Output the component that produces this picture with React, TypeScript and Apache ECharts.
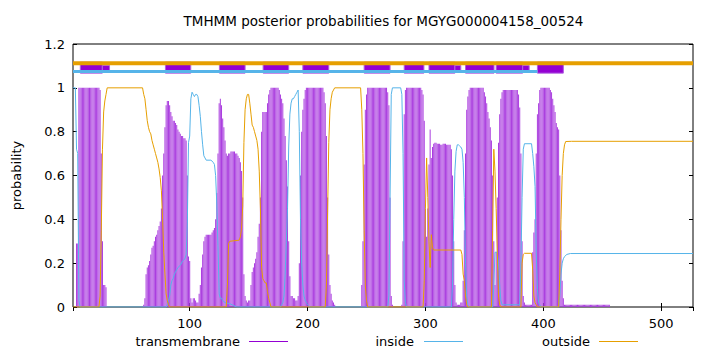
import React, { useEffect, useRef } from "react";
import * as echarts from "echarts";

// Posterior probability of transmembrane state, residue 1..456 (0 after)
const tmProb: number[] = [
  0, 0, 0, 0.29, 0.29, 1, 1, 1, 1, 1,
  1, 1, 1, 1, 1, 1, 1, 1, 1, 1,
  1, 1, 1, 0.99, 0.7, 0.3, 0.1, 0.1, 0.09, 0,
  0, 0, 0, 0, 0, 0, 0, 0, 0, 0,
  0, 0, 0, 0, 0, 0, 0, 0, 0, 0,
  0, 0, 0, 0, 0, 0, 0, 0, 0, 0,
  0.01, 0.04, 0.15, 0.18, 0.19, 0.21, 0.24, 0.27, 0.28, 0.3,
  0.32, 0.33, 0.35, 0.37, 0.39, 0.45, 0.6, 0.7, 0.82, 0.92,
  0.94, 0.94, 0.92, 0.89, 0.87, 0.85, 0.85, 0.84, 0.83, 0.81,
  0.8, 0.79, 0.78, 0.78, 0.77, 0.77, 0.76, 0.6, 0.23, 0.21,
  0.04, 0.02, 0.04, 0.04, 0.03, 0.02, 0.02, 0.06, 0.1, 0.18,
  0.24, 0.3, 0.32, 0.33, 0.33, 0.33, 0.33, 0.33, 0.34, 0.35,
  0.36, 0.4, 0.52, 0.7, 0.93, 0.95, 0.92, 0.86, 0.82, 0.76,
  0.7, 0.69, 0.7, 0.7, 0.71, 0.71, 0.71, 0.71, 0.7, 0.7,
  0.69, 0.68, 0.66, 0.62, 0.5, 0.15, 0.05, 0.03, 0.02, 0.03,
  0.03, 0.1, 0.16, 0.18, 0.2, 0.22, 0.25, 0.32, 0.38, 0.5,
  0.8, 0.89, 0.89, 0.89, 0.89, 0.93, 0.97, 0.99, 1, 1,
  1, 1, 1, 1, 1, 0.99, 0.97, 0.95, 0.93, 0.86,
  0.78, 0.67, 0.55, 0.3, 0.14, 0.05, 0.05, 0.04, 0.04, 0.03,
  0.03, 0.05, 0.2, 0.6, 0.8, 0.9, 0.95, 0.99, 1, 1,
  1, 1, 1, 1, 1, 1, 1, 1, 1, 1,
  1, 1, 1, 0.98, 0.93, 0.78, 0.5, 0.24, 0.1, 0.06,
  0.03, 0.02, 0.01, 0, 0, 0, 0, 0, 0, 0,
  0, 0, 0, 0, 0, 0, 0, 0, 0, 0,
  0, 0, 0, 0, 0, 0.1, 0.3, 0.65, 0.9, 0.97,
  1, 1, 1, 1, 1, 1, 1, 1, 1, 1,
  1, 1, 1, 1, 1, 1, 1, 0.98, 0.92, 0.5,
  0.05, 0.01, 0, 0, 0, 0, 0, 0, 0, 0.01,
  0.3, 0.88, 0.99, 1, 1, 1, 1, 1, 1, 1,
  1, 1, 1, 1, 1, 1, 0.99, 0.97, 0.85, 0.45,
  0.32, 0.45, 0.65, 0.81, 0.68, 0.73, 0.745, 0.75, 0.75, 0.745,
  0.745, 0.745, 0.74, 0.74, 0.745, 0.745, 0.745, 0.74, 0.74, 0.74,
  0.74, 0.72, 0.6, 0.3, 0.1, 0.02, 0.01, 0.01, 0.01, 0.02,
  0.02, 0.12, 0.35, 0.7, 0.9, 0.96, 0.99, 1, 1, 1,
  1, 1, 1, 1, 1, 1, 1, 1, 1, 0.98,
  0.96, 0.93, 0.89, 0.86, 0.82, 0.76, 0.6, 0.3, 0.1, 0.25,
  0.5, 0.75, 0.88, 0.95, 0.98, 0.99, 0.99, 0.99, 0.99, 0.99,
  0.99, 0.99, 0.99, 0.99, 0.99, 0.99, 0.99, 0.99, 0.97, 0.91,
  0.7, 0.3, 0.05, 0.02, 0.01, 0.01, 0.01, 0.01, 0.01, 0.01,
  0.25, 0.34, 0.4, 0.7, 0.88, 0.93, 0.99, 1, 1, 1,
  1, 1, 1, 1, 1, 0.99, 0.98, 0.95, 0.92, 0.89,
  0.84, 0.82, 0.81, 0.6, 0.35, 0.12, 0.04, 0.01, 0.01, 0.01,
  0.01, 0.01, 0.01, 0.01, 0.01, 0.01, 0.01, 0.01, 0.01, 0.01,
  0.01, 0.01, 0.01, 0.01, 0.01, 0.01, 0.01, 0.01, 0.01, 0.01,
  0.01, 0.01, 0.01, 0.01, 0.01, 0.01, 0.01, 0.01, 0.01, 0.01,
  0.01, 0.01, 0.01, 0.01, 0.01, 0.01,
];

// [residue, probability] for "inside"
const insideProb: [number, number][] = [
  [1, 1], [2, 1], [3, 1], [4, 0.72], [5, 0.7], [6, 0.03], [7, 0], [80, 0], [81, 0.01], [82, 0.03],
  [83, 0.05], [84, 0.1], [85, 0.12], [86, 0.13], [87, 0.15], [88, 0.16], [89, 0.17], [90, 0.18],
  [92, 0.19], [94, 0.21], [96, 0.22], [97, 0.24], [98, 0.38], [99, 0.75], [100, 0.78], [101, 0.95],
  [102, 0.98], [103, 0.97], [104, 0.96], [105, 0.97], [106, 0.97], [107, 0.96], [108, 0.92],
  [109, 0.87], [110, 0.8], [111, 0.74], [112, 0.69], [113, 0.68], [114, 0.67], [118, 0.67],
  [120, 0.66], [121, 0.65], [122, 0.6], [123, 0.47], [124, 0.28], [125, 0.06], [126, 0.04],
  [127, 0.04], [128, 0.03], [130, 0.02], [134, 0.015], [136, 0.01], [140, 0], [177, 0],
  [178, 0.01], [179, 0.02], [180, 0.05], [181, 0.15], [182, 0.3], [183, 0.45], [184, 0.73],
  [185, 0.88], [186, 0.93], [187, 0.95], [188, 0.95], [189, 0.96], [190, 0.97], [191, 0.98],
  [192, 0.99], [193, 0.8], [194, 0.4], [195, 0.2], [196, 0.1], [197, 0.05], [198, 0.03],
  [199, 0.02], [200, 0.01], [202, 0], [268, 0], [269, 0.05], [270, 0.5], [271, 0.97], [272, 1],
  [279, 1], [280, 0.97], [281, 0.7], [282, 0.12], [283, 0.02], [284, 0], [322, 0], [323, 0.1],
  [324, 0.4], [325, 0.62], [326, 0.71], [327, 0.74], [328, 0.74], [329, 0.735], [330, 0.73],
  [331, 0.72], [332, 0.66], [333, 0.5], [334, 0.2], [335, 0.05], [336, 0.01], [337, 0], [357, 0],
  [358, 0.1], [359, 0.25], [360, 0.25], [361, 0.25], [362, 0.2], [363, 0.1], [364, 0.03],
  [365, 0.01], [380, 0.01], [381, 0.2], [382, 0.5], [383, 0.72], [384, 0.745], [390, 0.745],
  [391, 0.7], [392, 0.64], [393, 0.55], [394, 0.25], [395, 0.08], [396, 0.02], [397, 0.01],
  [398, 0], [413, 0], [414, 0.05], [415, 0.15], [416, 0.2], [417, 0.22], [418, 0.23], [420, 0.24],
  [423, 0.244], [527, 0.244],
];

// [residue, probability] for "outside"
const outsideProb: [number, number][] = [
  [1, 0], [23, 0], [24, 0.05], [25, 0.35], [26, 0.72], [27, 0.89], [28, 0.94], [29, 0.97], [30, 1],
  [60, 1], [61, 0.97], [62, 0.95], [63, 0.9], [64, 0.85], [65, 0.82], [66, 0.8], [67, 0.79],
  [68, 0.76], [69, 0.74], [70, 0.72], [71, 0.7], [72, 0.68], [73, 0.66], [74, 0.63], [75, 0.59],
  [76, 0.53], [77, 0.4], [78, 0.25], [79, 0.15], [80, 0.06], [81, 0.03], [82, 0.01], [83, 0],
  [131, 0], [132, 0.1], [133, 0.29], [134, 0.3], [142, 0.305], [143, 0.32], [144, 0.36],
  [145, 0.46], [146, 0.75], [147, 0.9], [148, 0.95], [149, 0.97], [150, 0.97], [151, 0.93],
  [152, 0.88], [153, 0.83], [154, 0.82], [155, 0.8], [156, 0.78], [157, 0.76], [158, 0.72],
  [159, 0.62], [160, 0.45], [161, 0.18], [162, 0.13], [163, 0.12], [164, 0.11], [165, 0.11],
  [166, 0.07], [167, 0.04], [168, 0.02], [169, 0], [215, 0], [216, 0.1], [217, 0.43], [218, 0.75],
  [219, 0.9], [220, 0.95], [221, 0.98], [222, 0.99], [223, 1], [245, 1], [246, 0.9], [247, 0.7],
  [248, 0.35], [249, 0.1], [250, 0.03], [251, 0], [298, 0], [299, 0.12], [300, 0.45], [301, 0.68],
  [302, 0.5], [303, 0.3], [304, 0.18], [305, 0.33], [306, 0.27], [307, 0.26], [330, 0.26],
  [331, 0.24], [332, 0.15], [333, 0.12], [334, 0.05], [335, 0.01], [336, 0], [356, 0], [357, 0.35],
  [358, 0.72], [359, 0.62], [360, 0.45], [361, 0.25], [362, 0.05], [363, 0.01], [364, 0], [381, 0],
  [382, 0.2], [383, 0.24], [384, 0.245], [390, 0.245], [391, 0.17], [392, 0.05], [393, 0.02],
  [394, 0.01], [395, 0], [413, 0], [414, 0.15], [415, 0.4], [416, 0.6], [417, 0.7], [418, 0.74],
  [419, 0.755], [424, 0.756], [527, 0.756],
];

// predicted topology (top strip)
const tmSegStart = [7.2, 79.4, 125.2, 162.3, 196, 248, 282, 303, 334, 360, 395];
const tmSegEnd = [25.9, 100.9, 147, 184, 218, 270, 298.7, 325, 358.2, 382.5, 417];
const tmSegExtStart = [25.9, 325, 382.5];
const tmSegExtEnd = [32, 330, 388];
const outsideTrack: [number, number][] = [[1, 1.1126], [527, 1.1126]];
const insideTrack: [number, number][] = [[1, 1.0746], [395, 1.0746]];
const boxLevels = { lo: 1.067, hi: 1.117, extLo: 1.073, extHi: 1.102 };

const TITLE = "TMHMM posterior probabilities for MGYG000004158_00524";
const FONT = '"DejaVu Sans", sans-serif';
const C_TM = "#9400d3";
const C_IN = "#56b4e9";
const C_OUT = "#e69f00";

export default function App() {
  const ref = useRef<HTMLDivElement>(null);
  useEffect(() => {
    if (!ref.current) return;
    const chart = echarts.init(ref.current, undefined, { renderer: "svg" });
    const boxData: number[][] = [];
    tmSegStart.forEach((s, i) => boxData.push([s, tmSegEnd[i], boxLevels.lo, boxLevels.hi]));
    tmSegExtStart.forEach((s, i) => boxData.push([s, tmSegExtEnd[i], boxLevels.extLo, boxLevels.extHi]));

    const axisLabelStyle = { fontSize: 13, fontFamily: FONT, color: "#000" };
    const tickStyle = { inside: true, length: 4, lineStyle: { color: "#000", width: 1 } };

    const legendItems = [
      { name: "transmembrane", textRight: 240, lineX1: 249, lineX2: 288, color: C_TM },
      { name: "inside", textRight: 414, lineX1: 424, lineX2: 463, color: C_IN },
      { name: "outside", textRight: 590, lineX1: 599, lineX2: 638, color: C_OUT },
    ];
    const legendY = 341;
    const graphics: any[] = [
      {
        type: "text", x: 383.5, y: 21,
        style: { text: TITLE, font: `13.5px ${FONT}`, fill: "#000", textAlign: "center", align: "center", textVerticalAlign: "middle", verticalAlign: "middle" },
      },
      {
        type: "text", x: 16, y: 175.5, rotation: Math.PI / 2,
        style: { text: "probability", font: `13px ${FONT}`, fill: "#000", textAlign: "center", align: "center", textVerticalAlign: "middle", verticalAlign: "middle" },
      },
    ];
    legendItems.forEach((it) => {
      graphics.push({
        type: "text", x: it.textRight, y: legendY,
        style: { text: it.name, font: `13px ${FONT}`, fill: "#000", textAlign: "right", align: "right", textVerticalAlign: "middle", verticalAlign: "middle" },
      });
      graphics.push({
        type: "line", shape: { x1: it.lineX1, y1: legendY + 0.5, x2: it.lineX2, y2: legendY + 0.5 },
        style: { stroke: it.color, lineWidth: 1 },
      });
    });

    chart.setOption({
      animation: false,
      grid: { left: 73, right: 27, top: 44, bottom: 45, show: true, borderColor: "#000", borderWidth: 1, backgroundColor: "transparent" },
      xAxis: [
        {
          type: "value", min: 1, max: 527, splitNumber: 5,
          axisLine: { show: false }, splitLine: { show: false }, axisTick: tickStyle,
          axisLabel: { ...axisLabelStyle, margin: 10, showMinLabel: false, showMaxLabel: false,
            formatter: (v: number) => (v % 100 === 0 ? String(v) : "") },
        },
        {
          type: "value", position: "top", min: 1, max: 527, splitNumber: 5,
          axisLine: { show: false }, splitLine: { show: false }, axisTick: tickStyle, axisLabel: { show: false },
        },
      ],
      yAxis: [
        {
          type: "value", min: 0, max: 1.2, interval: 0.2,
          axisLine: { show: false }, splitLine: { show: false }, axisTick: tickStyle,
          axisLabel: { ...axisLabelStyle, margin: 8 },
        },
        {
          type: "value", position: "right", min: 0, max: 1.2, interval: 0.2,
          axisLine: { show: false }, splitLine: { show: false }, axisTick: tickStyle, axisLabel: { show: false },
        },
      ],
      graphic: graphics,
      series: [
        {
          name: "transmembrane", type: "bar", barWidth: 1, xAxisIndex: 0, yAxisIndex: 0,
          data: tmProb.map((v, i) => [i + 1, v]),
          itemStyle: { color: "#aa3ddf" }, silent: true,
        },
        {
          name: "inside", type: "line", symbol: "none", showSymbol: false, data: insideProb,
          lineStyle: { color: C_IN, width: 1 }, silent: true,
        },
        {
          name: "outside", type: "line", symbol: "none", showSymbol: false, data: outsideProb,
          lineStyle: { color: C_OUT, width: 1 }, silent: true,
        },
        {
          name: "outsideTrack", type: "line", symbol: "none", data: outsideTrack,
          lineStyle: { color: C_OUT, width: 4 }, silent: true,
        },
        {
          name: "insideTrack", type: "line", symbol: "none", data: insideTrack,
          lineStyle: { color: C_IN, width: 3 }, silent: true,
        },
        {
          name: "tmBoxes", type: "custom", data: boxData, silent: true,
          renderItem: (params: any, api: any) => {
            const p1 = api.coord([api.value(0), api.value(3)]);
            const p2 = api.coord([api.value(1), api.value(2)]);
            return {
              type: "rect",
              shape: { x: p1[0], y: p1[1], width: p2[0] - p1[0], height: p2[1] - p1[1] },
              style: { fill: C_TM, stroke: "#b060e0", lineWidth: 1 },
            };
          },
        },
      ],
    });
    return () => chart.dispose();
  }, []);
  return <div ref={ref} style={{ position: "absolute", left: 0, top: 0, width: 720, height: 352, background: "#fff" }} />;
}
